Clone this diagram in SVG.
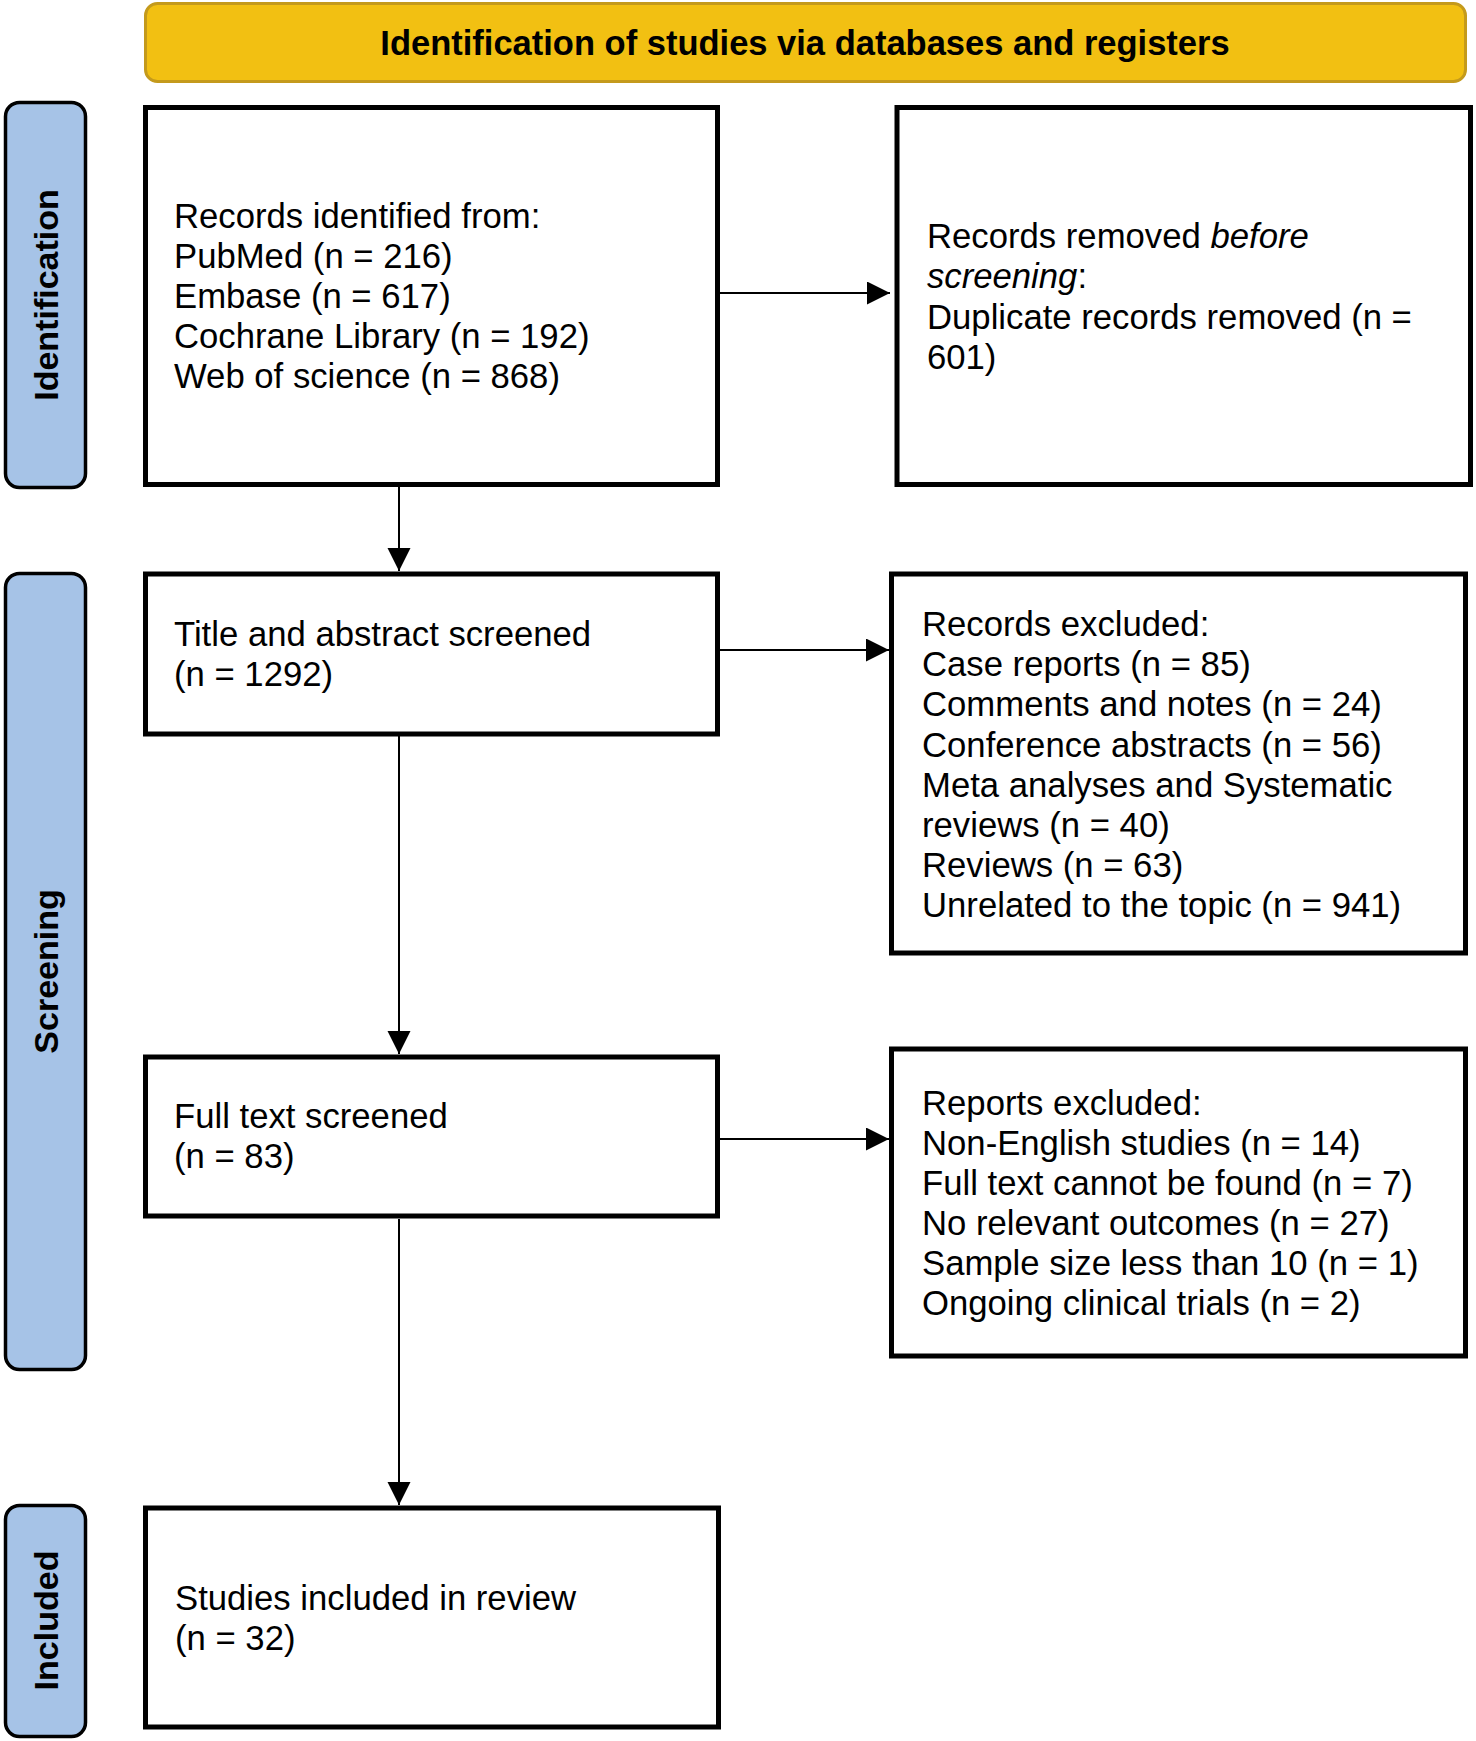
<svg xmlns="http://www.w3.org/2000/svg" width="1476" height="1741" viewBox="0 0 1476 1741">
<style>
text{font-family:"Liberation Sans",Arial,sans-serif;fill:#000}
.body{font-size:34.7px}
.title{font-size:34.5px;font-weight:bold}
.side{font-size:34px;font-weight:bold}
.box{fill:#fff;stroke:#000;stroke-width:5}
.lbl{fill:#A6C3E7;stroke:#000;stroke-width:3.5}
.ban{fill:#F2C012;stroke:#C49A1C;stroke-width:3}
.con{stroke:#000;stroke-width:2;fill:none}
</style>
<defs>
<marker id="ah" markerUnits="userSpaceOnUse" markerWidth="24" markerHeight="24" refX="23" refY="11.5" orient="auto">
<path d="M0,0 L23,11.5 L0,23 z" fill="#000"/>
</marker>
</defs>
<g id="banner">
<rect class="ban" x="145.5" y="3.5" width="1320" height="78" rx="12"/>
<text class="title" x="805" y="55" text-anchor="middle">Identification of studies via databases and registers</text>
</g>
<g id="label-identification">
<rect class="lbl" x="5.5" y="102.5" width="80" height="385" rx="14"/>
<text class="side" transform="translate(57.5,295) rotate(-90)" text-anchor="middle">Identification</text>
</g>
<g id="label-screening">
<rect class="lbl" x="5.5" y="573.5" width="80" height="796" rx="14"/>
<text class="side" transform="translate(57.5,971.5) rotate(-90)" text-anchor="middle">Screening</text>
</g>
<g id="label-included">
<rect class="lbl" x="5.5" y="1505.5" width="80" height="231" rx="14"/>
<text class="side" transform="translate(57.5,1620.5) rotate(-90)" text-anchor="middle">Included</text>
</g>
<g id="records-identified">
<rect class="box" x="145.5" y="107.5" width="572" height="377"/>
<text class="body" x="174" y="227.5">Records identified from:</text>
<text class="body" x="174" y="267.5">PubMed (n = 216)</text>
<text class="body" x="174" y="307.5">Embase (n = 617)</text>
<text class="body" x="174" y="347.5">Cochrane Library (n = 192)</text>
<text class="body" x="174" y="388">Web of science (n = 868)</text>
</g>
<g id="records-removed">
<rect class="box" x="897" y="107.5" width="573.5" height="377"/>
<text class="body" x="927" y="248">Records removed <tspan font-style="italic">before</tspan></text>
<text class="body" x="927" y="288"><tspan font-style="italic">screening</tspan>:</text>
<text class="body" x="927" y="328.5">Duplicate records removed (n =</text>
<text class="body" x="927" y="368.5">601)</text>
</g>
<g id="title-abstract">
<rect class="box" x="145.5" y="574" width="572" height="160"/>
<text class="body" x="174" y="646">Title and abstract screened</text>
<text class="body" x="174" y="685.5">(n = 1292)</text>
</g>
<g id="records-excluded">
<rect class="box" x="891.5" y="574" width="574" height="379"/>
<text class="body" x="922" y="636">Records excluded:</text>
<text class="body" x="922" y="676">Case reports (n = 85)</text>
<text class="body" x="922" y="716">Comments and notes (n = 24)</text>
<text class="body" x="922" y="756.5">Conference abstracts (n = 56)</text>
<text class="body" x="922" y="796.5">Meta analyses and Systematic</text>
<text class="body" x="922" y="836.5">reviews (n = 40)</text>
<text class="body" x="922" y="876.5">Reviews (n = 63)</text>
<text class="body" x="922" y="917">Unrelated to the topic (n = 941)</text>
</g>
<g id="full-text">
<rect class="box" x="145.5" y="1057" width="572" height="159"/>
<text class="body" x="174" y="1128">Full text screened</text>
<text class="body" x="174" y="1168">(n = 83)</text>
</g>
<g id="reports-excluded">
<rect class="box" x="891.5" y="1049" width="574" height="307"/>
<text class="body" x="922" y="1115">Reports excluded:</text>
<text class="body" x="922" y="1155">Non-English studies (n = 14)</text>
<text class="body" x="922" y="1195">Full text cannot be found (n = 7)</text>
<text class="body" x="922" y="1235">No relevant outcomes (n = 27)</text>
<text class="body" x="922" y="1275">Sample size less than 10 (n = 1)</text>
<text class="body" x="922" y="1315">Ongoing clinical trials (n = 2)</text>
</g>
<g id="included">
<rect class="box" x="145.5" y="1508" width="573" height="219"/>
<text class="body" x="175" y="1610">Studies included in review</text>
<text class="body" x="175" y="1650">(n = 32)</text>
</g>
<g id="connectors">
<line class="con" x1="720" y1="293" x2="890" y2="293" marker-end="url(#ah)"/>
<line class="con" x1="720" y1="650" x2="889" y2="650" marker-end="url(#ah)"/>
<line class="con" x1="720" y1="1139" x2="889" y2="1139" marker-end="url(#ah)"/>
<line class="con" x1="399" y1="487" x2="399" y2="571" marker-end="url(#ah)"/>
<line class="con" x1="399" y1="736" x2="399" y2="1054" marker-end="url(#ah)"/>
<line class="con" x1="399" y1="1219" x2="399" y2="1505" marker-end="url(#ah)"/>
</g>
</svg>
